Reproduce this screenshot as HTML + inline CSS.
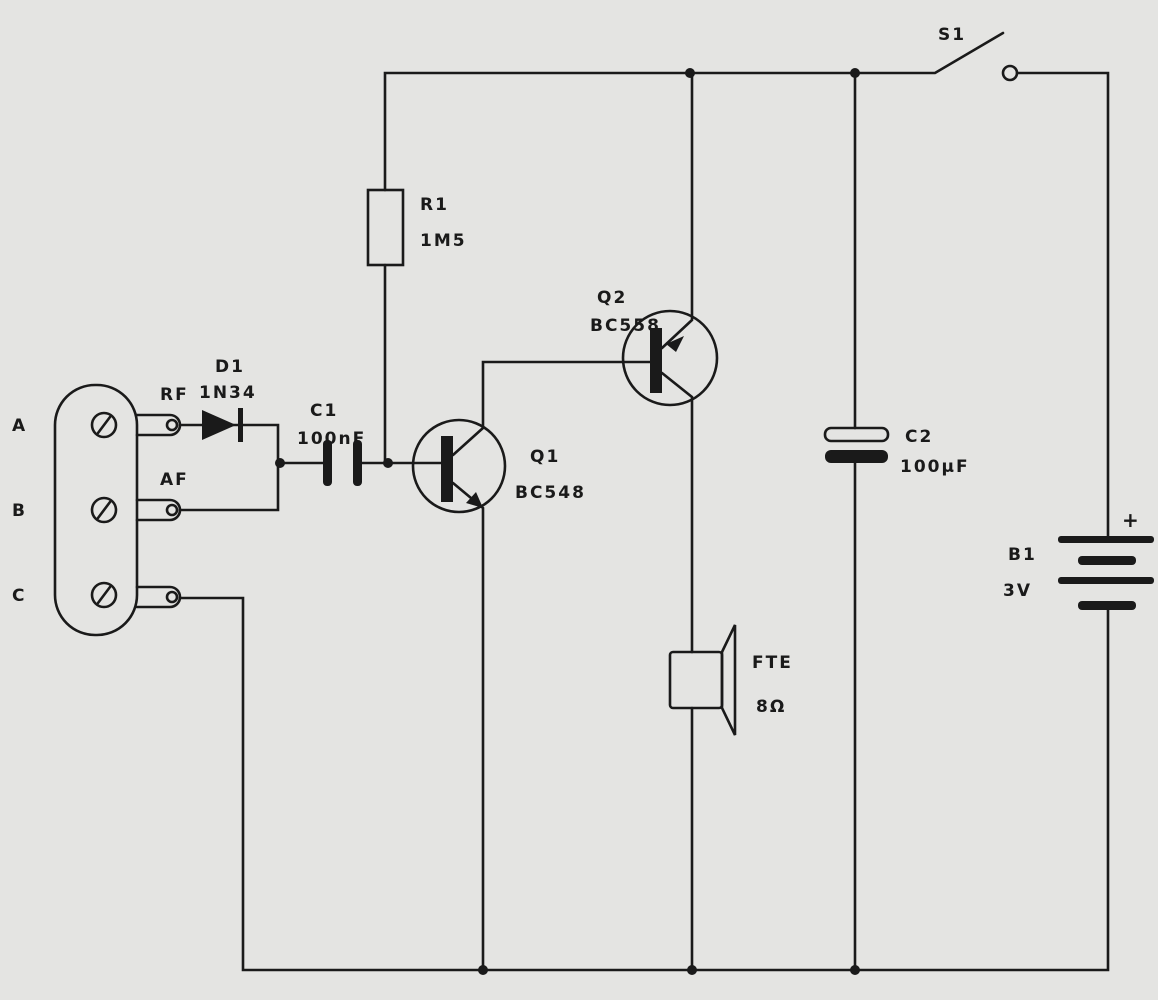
<!DOCTYPE html><html><head><meta charset="utf-8"><style>
html,body{margin:0;padding:0;background:#e4e4e2;}
svg{display:block}
text{font-family:"DejaVu Sans","Liberation Sans",sans-serif;font-size:17px;fill:#1a1a1a;letter-spacing:2px;font-weight:bold}
</style></head><body>
<svg width="1158" height="1000" viewBox="0 0 1158 1000" xmlns="http://www.w3.org/2000/svg">
<rect width="1158" height="1000" fill="#e4e4e2"/>
<g stroke="#1a1a1a" stroke-width="2.6" fill="none" stroke-linecap="round">
<!-- top wire -->
<polyline points="385,190 385,73 935,73 1003,33"/>
<circle cx="1010" cy="73" r="7"/>
<polyline points="1017,73 1108,73 1108,540"/>
<polyline points="1108,605 1108,970 243,970 243,598 180,598"/>
<!-- R1 -->
<rect x="368" y="190" width="35" height="75"/>
<line x1="385" y1="265" x2="385" y2="463"/>
<!-- Q1 -->
<circle cx="459" cy="466" r="46"/>
<line x1="390" y1="463" x2="441" y2="463"/>
<polyline points="453,455 483,428 483,362 650,362"/>
<polyline points="453,483 483,508 483,970"/>
<!-- Q2 -->
<circle cx="670" cy="358" r="47"/>
<polyline points="662,348 692,320 692,73"/>
<polyline points="662,373 692,397 692,652"/>
<line x1="692" y1="708" x2="692" y2="970"/>
<!-- speaker -->
<rect x="670" y="652" width="52" height="56" rx="3"/>
<polygon points="722,652 735,625 735,735 722,708"/>
<!-- C2 -->
<line x1="855" y1="73" x2="855" y2="428"/>
<rect x="825" y="428" width="63" height="13" rx="6"/>
<line x1="855" y1="462" x2="855" y2="970"/>
<!-- connector -->
<rect x="55" y="385" width="82" height="250" rx="40"/>
<circle cx="104" cy="425" r="12"/><line x1="98" y1="433" x2="110" y2="417"/>
<circle cx="104" cy="510" r="12"/><line x1="98" y1="518" x2="110" y2="502"/>
<circle cx="104" cy="595" r="12"/><line x1="98" y1="603" x2="110" y2="587"/>
<path d="M137,415 H170 A10,10 0 0 1 170,435 H137"/>
<path d="M137,500 H170 A10,10 0 0 1 170,520 H137"/>
<path d="M137,587 H170 A10,10 0 0 1 170,607 H137"/>
<circle cx="172" cy="425" r="5"/><circle cx="172" cy="510" r="5"/><circle cx="172" cy="597" r="5"/>
<polyline points="180,425 240,425"/>
<polyline points="240,425 278,425 278,510 180,510"/>
<line x1="278" y1="463" x2="328" y2="463"/>
<line x1="360" y1="463" x2="390" y2="463"/>
</g>
<g fill="#1a1a1a">
<rect x="441" y="436" width="12" height="66"/>
<rect x="650" y="328" width="12" height="65"/>
<polygon points="483,508 466,503 476,492"/>
<polygon points="666,344 684,336 676,352"/>
<polygon points="202,410 202,440 236,425"/>
<rect x="238" y="408" width="5" height="34"/>
<rect x="323" y="440" width="9" height="46" rx="4"/>
<rect x="353" y="440" width="9" height="46" rx="4"/>
<rect x="825" y="450" width="63" height="13" rx="6"/>
<rect x="1058" y="536" width="96" height="7" rx="3"/>
<rect x="1078" y="556" width="58" height="9" rx="4"/>
<rect x="1058" y="577" width="96" height="7" rx="3"/>
<rect x="1078" y="601" width="58" height="9" rx="4"/>
<circle cx="690" cy="73" r="5"/><circle cx="855" cy="73" r="5"/>
<circle cx="483" cy="970" r="5"/><circle cx="692" cy="970" r="5"/><circle cx="855" cy="970" r="5"/>
<circle cx="280" cy="463" r="5"/><circle cx="388" cy="463" r="5"/>
</g>
<text x="12" y="431">A</text><text x="12" y="516">B</text><text x="12" y="601">C</text>
<text x="160" y="400">RF</text><text x="160" y="485">AF</text>
<text x="215" y="372">D1</text><text x="199" y="398">1N34</text>
<text x="310" y="416">C1</text><text x="297" y="444">100nF</text>
<text x="420" y="210">R1</text><text x="420" y="246">1M5</text>
<text x="597" y="303">Q2</text><text x="590" y="331">BC558</text>
<text x="530" y="462">Q1</text><text x="515" y="498">BC548</text>
<text x="905" y="442">C2</text><text x="900" y="472">100μF</text>
<text x="938" y="40">S1</text>
<text x="1008" y="560">B1</text><text x="1003" y="596">3V</text>
<text x="1122" y="527" style="font-size:20px">+</text>
<text x="752" y="668">FTE</text><text x="756" y="712">8Ω</text>
</svg>
</body></html>
